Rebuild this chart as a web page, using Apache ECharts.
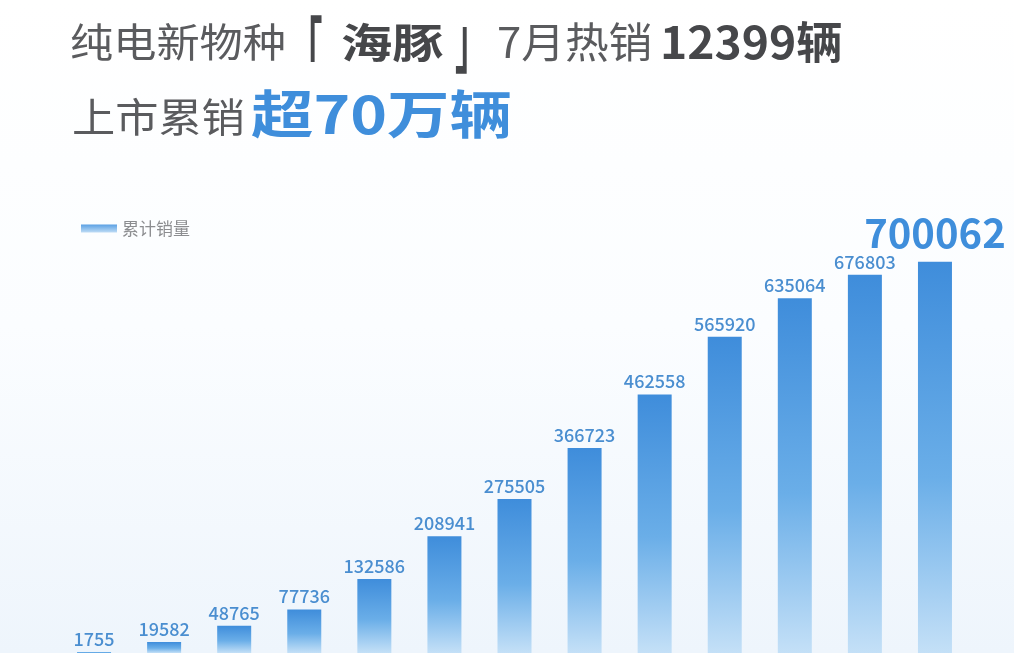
<!DOCTYPE html>
<html>
<head>
<meta charset="utf-8">
<script src="https://cdn.jsdelivr.net/npm/echarts@6/dist/echarts.min.js"></script>
<style>
html,body{margin:0;padding:0;background:#fff;}
#chart{width:1014px;height:653px;}
</style>
</head>
<body>
<div id="chart"></div>
<script>
// ---- data ----
const categories = ['1','2','3','4','5','6','7','8','9','10','11','12','13'];
const cumulativeSales = [1755, 19582, 48765, 77736, 132586, 208941, 275505, 366723, 462558, 565920, 635064, 676803, 700062];
const seriesName = '累计销量';

const chart = echarts.init(document.getElementById('chart'));
const FONT = '"Noto Sans CJK SC", "Noto Sans", sans-serif';
const BLUE = '#3f8edb';
const GRAY = '#5a5b5e';
const DARK = '#46474a';

const barGradient = new echarts.graphic.LinearGradient(0, 0, 0, 1, [
  { offset: 0, color: '#3f8ddb' },
  { offset: 0.55, color: '#6aaee8' },
  { offset: 1, color: '#c4e0f7' }
]);

const lastIdx = cumulativeSales.length - 1;
const barData = cumulativeSales.map((v, i) => {
  if (i === lastIdx) {
    return {
      value: v,
      label: { fontSize: 40, fontWeight: 'bold', color: BLUE, distance: 9 }
    };
  }
  return v;
});

function txt(text, x, y, size, weight, color, sx) {
  return {
    type: 'text', x: x, y: y, scaleX: sx || 1, silent: true,
    style: {
      text: text, fill: color, fontSize: size, fontWeight: weight, fontFamily: FONT,
      align: 'left', verticalAlign: 'middle'
    }
  };
}

chart.setOption({
  backgroundColor: new echarts.graphic.LinearGradient(0, 0, 0, 1, [
    { offset: 0, color: '#ffffff' },
    { offset: 0.5, color: '#fbfdff' },
    { offset: 1, color: '#eef5fc' }
  ]),
  graphic: [
    txt('纯电新物种', 70, 42, 40, 'normal', GRAY, 1.08),
    txt('「', 290, 50, 72, 'bold', DARK, 0.45),
    txt('海豚', 341, 42, 41, 'bold', DARK, 1.25),
    txt('」', 455, 39, 72, 'bold', DARK, 0.45),
    txt('7月热销', 497, 42, 42, 'normal', GRAY, 1.04),
    txt('12399辆', 660, 42, 44, 'bold', DARK, 1.05),
    txt('上市累销', 72, 117, 40, 'normal', GRAY, 1.08),
    txt('超70万辆', 251, 114, 52, 'bold', BLUE, 1.2)
  ],
  legend: {
    left: 76, top: 215,
    icon: 'rect', itemWidth: 36, itemHeight: 8, itemGap: 10,
    data: [{ name: seriesName, itemStyle: { color: new echarts.graphic.LinearGradient(0, 0, 0, 1, [
      { offset: 0, color: '#5aa0e4' }, { offset: 1, color: '#bfdcf5' }]) } }],
    textStyle: { fontFamily: FONT, fontSize: 17, color: '#8c8d90', padding: [0, 0, 0, 0] }
  },
  grid: { left: 59, right: 44, top: 206, bottom: -6, containLabel: false },
  xAxis: {
    type: 'category', data: categories,
    axisLine: { show: false }, axisTick: { show: false }, axisLabel: { show: false },
    splitLine: { show: false }
  },
  yAxis: {
    type: 'value', min: 0, max: 800000,
    show: false, splitLine: { show: false }
  },
  series: [{
    name: seriesName,
    type: 'bar',
    data: barData,
    barWidth: 34,
    itemStyle: { color: barGradient },
    label: {
      show: true, position: 'top', distance: 4,
      fontFamily: FONT, fontSize: 18, fontWeight: 500, color: '#4a8ed0'
    },
    animation: false
  }],
  animation: false
});
</script>
</body>
</html>
